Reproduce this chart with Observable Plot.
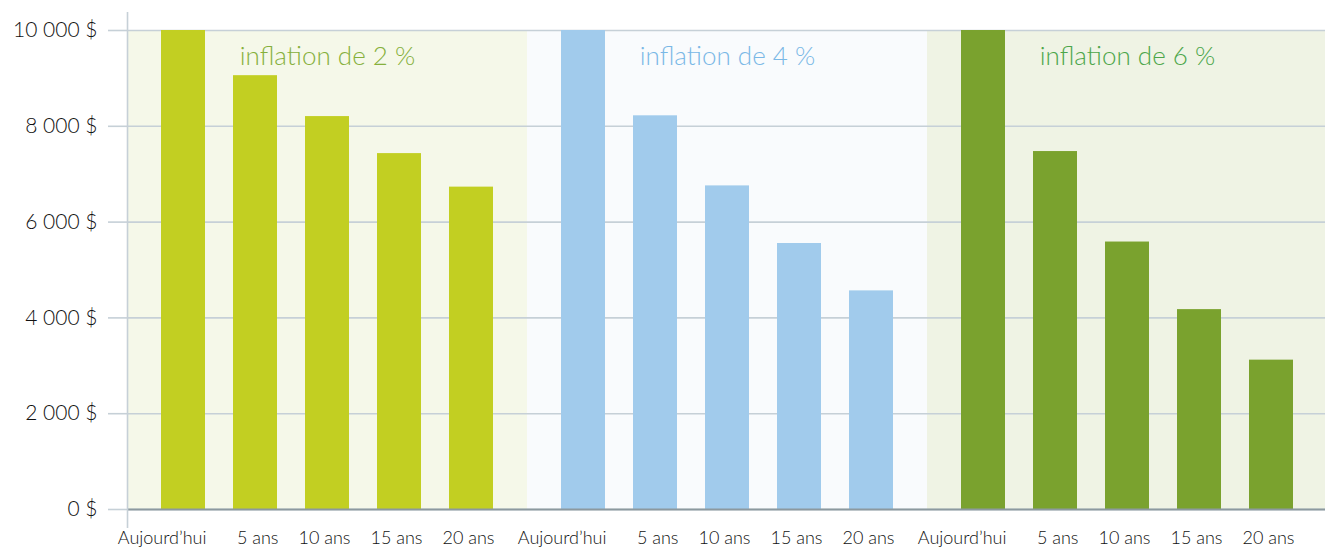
<!DOCTYPE html>
<html>
<head>
<meta charset="utf-8">
<script src="https://cdn.jsdelivr.net/npm/d3@7"></script>
<script src="https://cdn.jsdelivr.net/npm/@observablehq/plot@0.6"></script>
<style>
  html, body { margin: 0; padding: 0; background: #fff; overflow: hidden; }
  #chart { width: 1325px; height: 548px; }
</style>
</head>
<body>
<div id="chart"></div>
<script>
// ---- data ----
const groups = ["inflation de 2 %", "inflation de 4 %", "inflation de 6 %"];
const periods = ["Aujourd’hui", "5 ans", "10 ans", "15 ans", "20 ans"];
const values2 = [10000, 9057, 8203, 7430, 6730];
const values4 = [10000, 8219, 6756, 5553, 4564];
const values6 = [10000, 7473, 5584, 4173, 3118];
const yTicks = [0, 2000, 4000, 6000, 8000, 10000];

// ---- styles ----
const barColors = ["#c2cf22", "#a1cbec", "#7aa22e"];
const bgColors = ["#f5f8e9", "#f9fbfd", "#eff3e4"];
const titleColors = ["#86b03c", "#7ab8e6", "#4ca64a"];
const gridColor = "#c6d0d7";
const baseColor = "#8c999f";
const FONT = "Lato, 'Open Sans', sans-serif";

const seriesValues = [values2, values4, values6];
const rows = groups.flatMap((g, gi) => periods.map((p, pi) => ({
  group: g, period: p, value: seriesValues[gi][pi], color: barColors[gi]
})));
const panels = groups.map((g, gi) => ({group: g, bg: bgColors[gi], tc: titleColors[gi]}));
const yMax = yTicks[yTicks.length - 1];

const W = 1325, ML = 127, MR = -2;
const facetW = (W - ML - MR) / groups.length;
const pIn = 0.389, pOut = 0.472;
const step = facetW / (periods.length - pIn + 2 * pOut);
const bandW = (1 - pIn) * step;
const firstCenter = pOut * step + bandW / 2;

const fmt = d => d3.format(",")(d).replace(/,/g, "\u00a0") + "\u00a0$";

const chart = Plot.plot({
  width: W,
  height: 548,
  marginLeft: ML,
  marginRight: MR,
  marginTop: 30,
  marginBottom: 39,
  style: {fontFamily: FONT, background: "#fff", overflow: "hidden"},
  fx: {domain: groups, padding: 0, axis: null, label: null},
  x: {domain: periods, paddingInner: pIn, paddingOuter: pOut, label: null},
  y: {domain: [0, yMax], label: null},
  color: {type: "identity"},
  marks: [
    Plot.barY(panels, {fx: "group", y1: () => 0, y2: () => yMax, fill: "bg"}),
    Plot.ruleY(yTicks, {stroke: gridColor, strokeWidth: 1.6}),
    Plot.axisY({ticks: yTicks, tickFormat: fmt, tickSize: 19, tickPadding: 11,
      stroke: gridColor, strokeWidth: 1.6, fontSize: 21, fontWeight: 300, fill: "#111", label: null}),
    Plot.axisX({tickSize: 0, tickPadding: 22, fontSize: 18, fontWeight: 300, fill: "#111",
      textAnchor: "end", dx: bandW / 2 + 1, label: null}),
    Plot.barY(rows, {fx: "group", x: "period", y: "value", fill: "color"}),
    Plot.ruleY([0], {stroke: baseColor, strokeWidth: 2.2}),
    Plot.ruleX(panels.slice(0, 1), {fx: "group", x: () => periods[0], dx: -firstCenter,
      insetTop: -18, insetBottom: -19, stroke: gridColor, strokeWidth: 1.6}),
    Plot.text(panels, {fx: "group", text: "group", fill: "tc", frameAnchor: "top",
      dy: 26, lineAnchor: "middle", fontSize: 26, fontWeight: 300})
  ]
});
document.getElementById("chart").appendChild(chart);
</script>
</body>
</html>
